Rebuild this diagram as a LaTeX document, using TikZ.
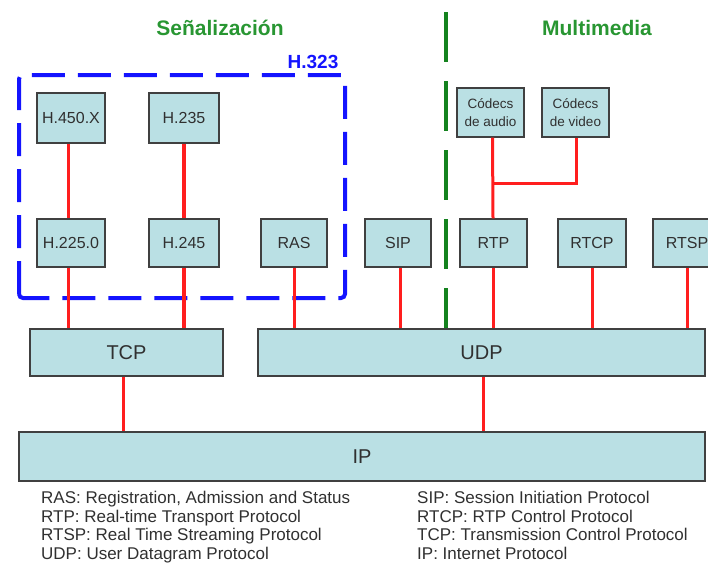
\documentclass[tikz,border=0pt]{standalone}
\usepackage{fontspec}
\setmainfont{Liberation Sans}
\usetikzlibrary{shadows}
\definecolor{boxfill}{RGB}{186,224,228}
\definecolor{boxline}{RGB}{64,64,64}
\definecolor{txtgray}{RGB}{48,48,48}
\definecolor{linered}{RGB}{255,30,30}
\definecolor{dashblue}{RGB}{20,20,255}
\definecolor{sepgreen}{RGB}{20,130,30}
\definecolor{titlegreen}{RGB}{40,150,50}
\tikzset{
  proto/.style={draw=boxline, line width=1.3pt, fill=boxfill, inner sep=0pt,
    text=txtgray, font=\fontsize{16}{18}\selectfont,
    drop shadow={shadow xshift=1pt, shadow yshift=-1.2pt, opacity=0.45, fill=black}},
  bigproto/.style={proto, font=\fontsize{20}{22}\selectfont},
  codec/.style={proto, font=\fontsize{13.5}{18}\selectfont, align=center},
  link/.style={draw=linered, line width=3pt},
  thicklink/.style={draw=linered, line width=4.8pt},
  legend/.style={anchor=base west, inner sep=0pt, text=txtgray, font=\fontsize{17}{18}\selectfont},
  title/.style={font=\bfseries\fontsize{21}{24}\selectfont, text=titlegreen},
}
\begin{document}
\begin{tikzpicture}[x=1pt,y=-1pt]
\useasboundingbox (0,0) rectangle (708,563);
\begin{scope}
\clip (0,0) rectangle (708,563);

% titles
\node[title] (tsen) at (220,28) {Señalización};
\node[title] (tmul) at (597,28) {Multimedia};

% H.323 group
\draw[dashblue, line width=4pt, dash pattern=on 33pt off 13pt, rounded corners=4pt]
  (19,298) -- (19,75) -- (345,75) -- (345,298) -- cycle;
\node[font=\bfseries\fontsize{19}{22}\selectfont, text=dashblue] (h323) at (313,62) {H.323};

% green separator
\coordinate (gtop) at (446,12);

% upper boxes
\node[proto, minimum width=68pt, minimum height=50pt] (h450) at (71,118) {H.450.X};
\node[proto, minimum width=70pt, minimum height=50pt] (h235) at (184,118) {H.235};
\node[codec, minimum width=67pt, minimum height=49pt] (audio) at (490.5,112.5) {Códecs\\de audio};
\node[codec, minimum width=67pt, minimum height=49pt] (video) at (575.5,112.5) {Códecs\\de video};

% middle boxes
\node[proto, minimum width=68pt, minimum height=48pt] (h225) at (71,243) {H.225.0};
\node[proto, minimum width=70pt, minimum height=48pt] (h245) at (184,243) {H.245};
\node[proto, minimum width=66pt, minimum height=48pt] (ras) at (294,243) {RAS};
\node[proto, minimum width=66pt, minimum height=48pt] (sip) at (398,243) {SIP};
\node[proto, minimum width=67pt, minimum height=48pt] (rtp) at (493.5,243) {RTP};
\node[proto, minimum width=68pt, minimum height=48pt] (rtcp) at (592,243) {RTCP};
\node[proto, minimum width=68pt, minimum height=48pt] (rtsp) at (687,243) {RTSP};

% transport and network
\node[bigproto, minimum width=193pt, minimum height=47pt] (tcp) at (126.5,352.5) {TCP};
\node[bigproto, minimum width=447pt, minimum height=47pt] (udp) at (481.5,352.5) {UDP};
\node[bigproto, minimum width=686pt, minimum height=49pt] (ip) at (362,456.5) {IP};

\draw[sepgreen, line width=4pt, dash pattern=on 50pt off 19pt] (gtop) -- (gtop |- udp.north);

% connectors
\draw[link] ([xshift=-3pt]h450.south) -- ([xshift=-3pt]h225.north);
\draw[thicklink] (h235.south) -- (h245.north);
\draw[link] ([xshift=-3pt]h225.south) -- ([xshift=-3pt]h225.south |- tcp.north);
\draw[thicklink] (h245.south) -- (h245.south |- tcp.north);
\draw[link] (ras.south) -- (ras.south |- udp.north);
\draw[link] ([xshift=2pt]sip.south) -- ([xshift=2pt]sip.south |- udp.north);
\draw[link] (rtp.south) -- (rtp.south |- udp.north);
\draw[link] (rtcp.south) -- (rtcp.south |- udp.north);
\draw[link] (rtsp.south) -- (rtsp.south |- udp.north);
\draw[link] ([xshift=2pt]audio.south) -- ([xshift=-0.5pt]rtp.north);
\coordinate (vjoin) at ([xshift=0.5pt]video.south |- 0,183);
\draw[link] ([xshift=0.5pt]video.south) -- (vjoin) -- (vjoin -| rtp.north);
\draw[link] ([xshift=-3.5pt]tcp.south) -- ([xshift=-3.5pt]tcp.south |- ip.north);
\draw[link] ([xshift=1.5pt]udp.south) -- ([xshift=1.5pt]udp.south |- ip.north);

% legend
\node[legend] (l1) at (41,503) {RAS: Registration, Admission and Status};
\node[legend] (l2) at (41,522) {RTP: Real-time Transport Protocol};
\node[legend] (l3) at (41,540) {RTSP: Real Time Streaming Protocol};
\node[legend] (l4) at (41,559) {UDP: User Datagram Protocol};
\node[legend] (r1) at (417,503) {SIP: Session Initiation Protocol};
\node[legend] (r2) at (417,522) {RTCP: RTP Control Protocol};
\node[legend] (r3) at (417,540) {TCP: Transmission Control Protocol};
\node[legend] (r4) at (417,559) {IP: Internet Protocol};
\end{scope}
\end{tikzpicture}
\end{document}
